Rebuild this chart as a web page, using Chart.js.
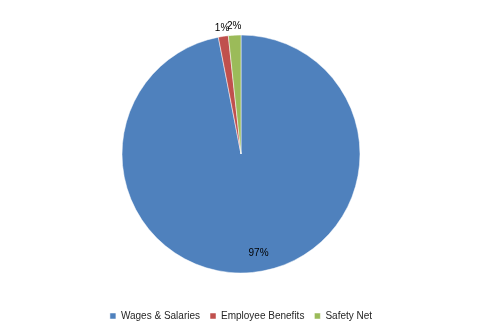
<!DOCTYPE html>
<html>
<head>
<meta charset="utf-8">
<script src="https://cdn.jsdelivr.net/npm/chart.js@4/dist/chart.umd.min.js"></script>
<style>
  html, body { margin: 0; padding: 0; background: #fff; }
  #wrap { width: 482px; height: 335px; }
</style>
</head>
<body>
<div id="wrap"><canvas id="chart-canvas" width="482" height="335"></canvas></div>
<script>
'use strict';

// values
const CATEGORIES = ['Wages & Salaries', 'Employee Benefits', 'Safety Net'];
const SHARES = [96.95, 1.35, 1.7];
const PCT_LABELS = ['97%', '1%', '2%'];
const COLORS = ['#4F81BD', '#C0504D', '#9BBB59'];

/**
 * Draws the percent labels: the big slice inside, the thin ones just outside.
 */
const pctLabels = {
  id: 'pctLabels',
  afterDatasetsDraw(chart) {
    const ctx = chart.ctx;
    const arcs = chart.getDatasetMeta(0).data;
    ctx.save();
    ctx.font = '10px "Liberation Sans", Arial, sans-serif';
    ctx.fillStyle = '#000';
    ctx.textAlign = 'center';
    ctx.textBaseline = 'middle';
    arcs.forEach((arc, i) => {
      const mid = (arc.startAngle + arc.endAngle) / 2;
      const big = SHARES[i] > 10;
      const r = big ? arc.outerRadius * 0.84 : arc.outerRadius + 8.5;
      const shift = big ? 8 : 0;
      const x = arc.x + Math.cos(mid) * r + shift;
      const y = arc.y + Math.sin(mid) * r;
      ctx.fillText(PCT_LABELS[i], x, y);
    });
    ctx.restore();
  }
};

new Chart(document.getElementById('chart-canvas'), {
  type: 'pie',
  data: {
    labels: CATEGORIES,
    datasets: [{
      data: SHARES,
      backgroundColor: COLORS,
      borderColor: '#ffffff',
      borderWidth: 0.5,
      radius: 119
    }]
  },
  options: {
    responsive: false,
    animation: false,
    layout: { padding: { top: 7, bottom: 4 } },
    plugins: {
      tooltip: { enabled: false },
      legend: {
        position: 'bottom',
        labels: {
          boxWidth: 6,
          boxHeight: 6,
          padding: 10,
          color: '#262626',
          font: { family: '"Liberation Sans", Arial, sans-serif', size: 10 }
        }
      }
    }
  },
  plugins: [pctLabels]
});
</script>
</body>
</html>
